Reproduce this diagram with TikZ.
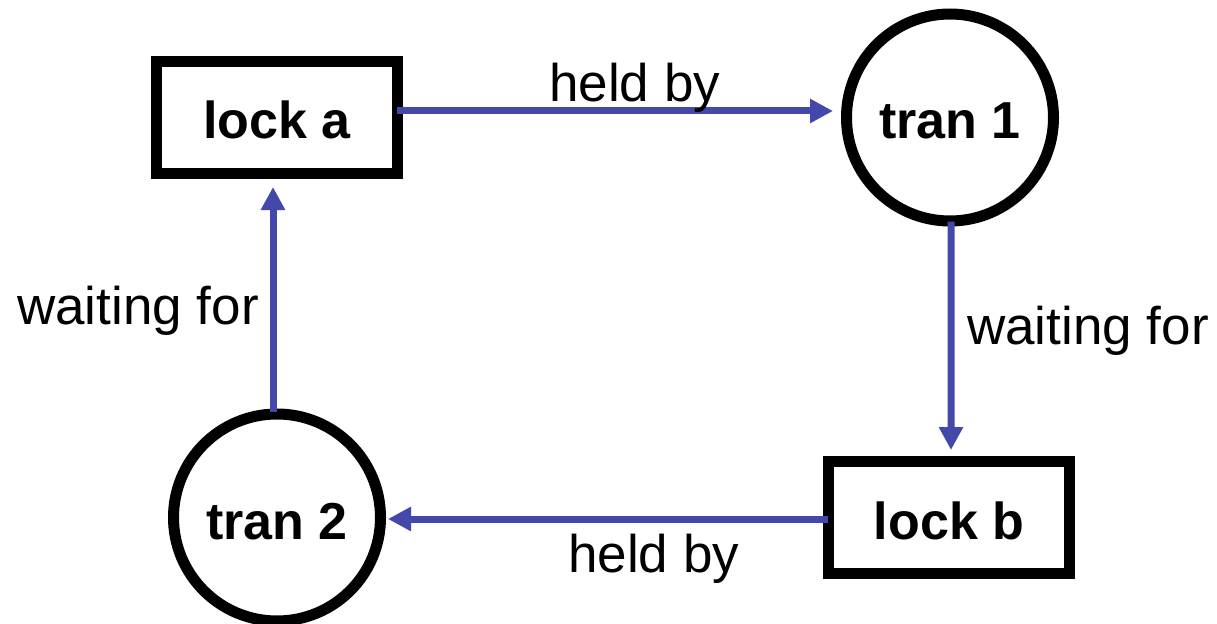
\documentclass[tikz,border=0pt]{standalone}
\usepackage{fontspec}
\setmainfont{Liberation Sans}
\usetikzlibrary{arrows.meta}
\definecolor{edgeblue}{RGB}{68,72,170}
\begin{document}
\begin{tikzpicture}[x=1bp,y=-1bp,
  lockbox/.style={draw=black,line width=11bp,minimum width=241bp,minimum height=112bp,
    inner sep=0pt,font=\fontsize{52bp}{60bp}\selectfont\bfseries,text height=43bp,text depth=0bp},
  tranbox/.style={circle,draw=black,line width=11bp,minimum size=207bp,
    inner sep=0pt,font=\fontsize{52bp}{60bp}\selectfont\bfseries,text height=43bp,text depth=0bp},
  arr/.style={draw=edgeblue,line width=7bp,-{Triangle[length=23bp,width=23bp]}},
  lbl/.style={font=\fontsize{53bp}{61bp}\selectfont,inner sep=0pt,anchor=base west}]
\useasboundingbox (0,0) rectangle (1217,624);

% nodes
\node[lockbox] (lockA) at (277,117.5) {lock a};
\node[tranbox] (tranA) at (950,117.5) {tran 1};
\node[lockbox] (lockB) at (949,517.5) {lock b};
\node[tranbox] (tranB) at (277,517.5) {tran 2};

% connectors
\draw[arr] ([xshift=-6bp,yshift=6.5bp]lockA.east) -- ([xshift=-8bp,yshift=6.5bp]tranA.west);
\draw[arr] ([xshift=1bp,yshift=5bp]tranA.south) -- ([xshift=2bp,yshift=6bp]lockB.north);
\draw[arr] ([xshift=5bp,yshift=-1.5bp]lockB.west) -- ([xshift=2bp,yshift=-1.5bp]tranB.east);
\draw[arr] ([xshift=-4bp,yshift=-4bp]tranB.north) -- ([xshift=-4bp,yshift=-8bp]lockA.south);

% labels
\node[lbl] (lab1) at (549,102) {held by};
\node[lbl] (lab2) at (967,345) {waiting for};
\node[lbl] (lab3) at (568,572) {held by};
\node[lbl] (lab4) at (17,325) {waiting for};
\end{tikzpicture}
\end{document}
